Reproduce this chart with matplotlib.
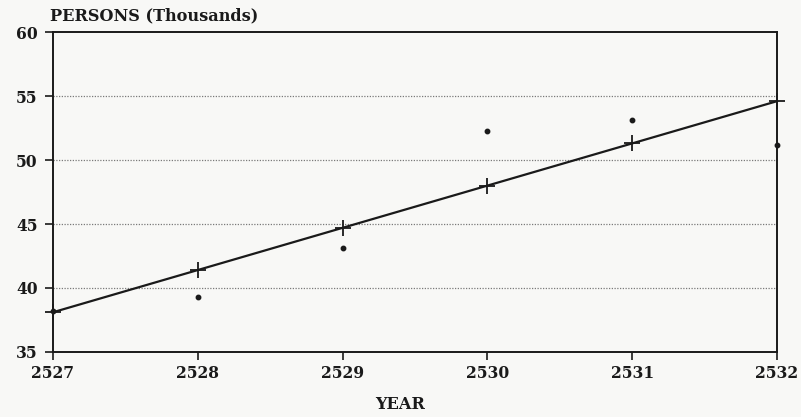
import matplotlib
matplotlib.use("Agg")
import matplotlib.pyplot as plt

years = [2527, 2528, 2529, 2530, 2531, 2532]
observed = [38.2, 39.3, 43.1, 52.3, 53.1, 51.2]
trend = [38.1, 41.4, 44.7, 48.0, 51.3, 54.6]

INK = "#1a1a1a"
SERIF = ["DejaVu Serif"]

fig = plt.figure(figsize=(8.01, 4.17), dpi=100)
fig.patch.set_facecolor("#f8f8f6")
ax = fig.add_axes([0.066, 0.156, 0.904, 0.767])
ax.set_facecolor("#f8f8f6")

# dotted reference lines
for v in [40, 45, 50, 55]:
    ax.axhline(v, color="#7a7a7a", lw=0.9, ls=(0, (1, 1.2)), zorder=1)

ax.plot(years, trend, color=INK, lw=1.6, marker="+", ms=11, mew=1.3,
        zorder=3, clip_on=False)
ax.plot(years, observed, ls="none", marker="o", color=INK, ms=3.2,
        zorder=4, clip_on=False)

ax.set_xlim(2527, 2532)
ax.set_ylim(35, 60)
ax.set_xticks(years)
ax.set_yticks([35, 40, 45, 50, 55, 60])
for s in ax.spines.values():
    s.set_color(INK)
    s.set_linewidth(1.4)
ax.tick_params(direction="out", length=6, width=1.2, color=INK,
               labelsize=11.2, labelcolor=INK)
ax.tick_params(axis="y", pad=5)
for lab in ax.get_xticklabels() + ax.get_yticklabels():
    lab.set_family(SERIF)
    lab.set_fontweight("semibold")

fig.text(0.063, 0.961, "PERSONS (Thousands)", family=SERIF, fontsize=11.6,
         fontweight="semibold", color=INK, ha="left", va="center")
fig.text(0.5, 0.03, "YEAR", family=SERIF, fontsize=11.6,
         fontweight="semibold", color=INK, ha="center", va="center")

fig.savefig("out.png", dpi=100, facecolor=fig.get_facecolor())
